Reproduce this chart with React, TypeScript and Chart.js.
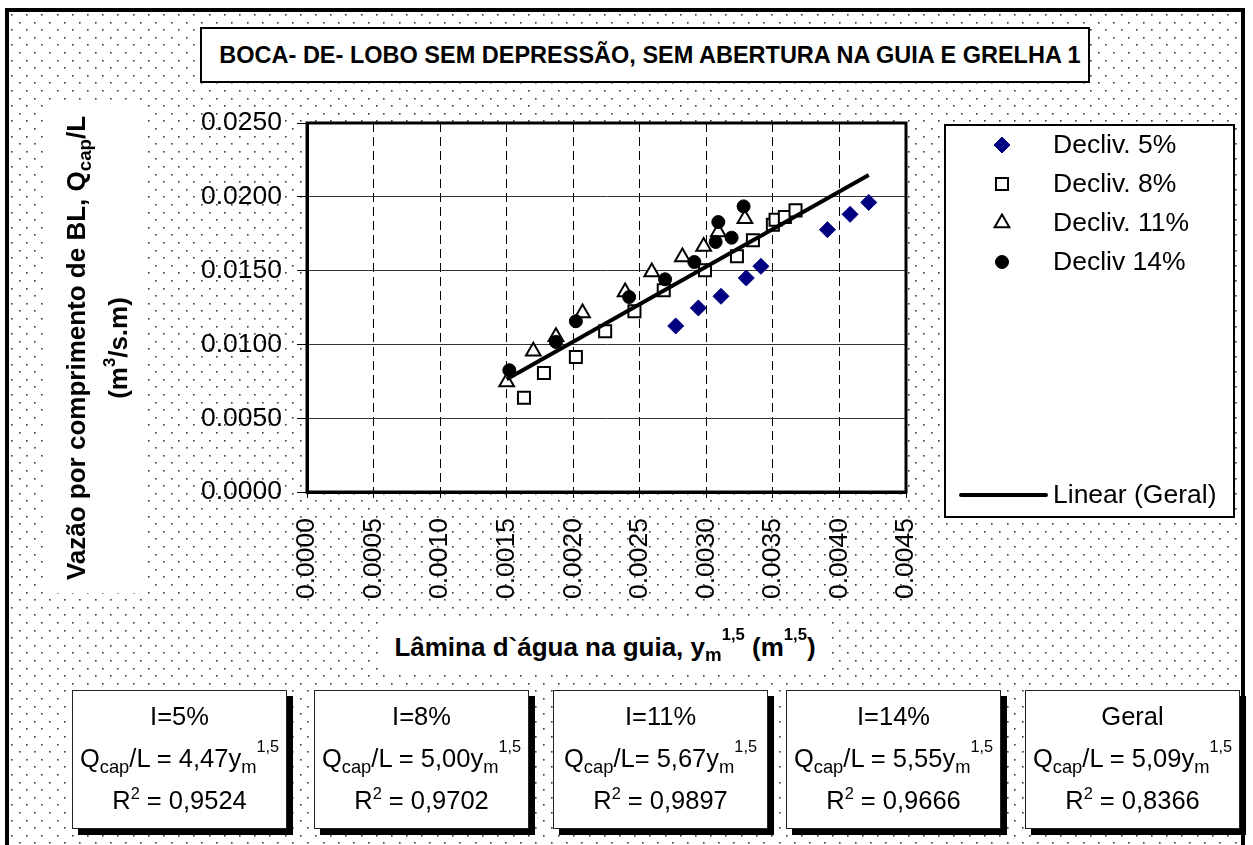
import React, { useEffect, useRef } from 'react';
import { Chart, registerables } from 'chart.js';
import { drawPoint } from 'chart.js/helpers';

Chart.register(...registerables);

const FONT = "'Liberation Sans', Arial, Helvetica, sans-serif";

// ---- data (x = y_m^1.5 in m^1.5, y = Qcap/L in m3/s.m) ----
const decliv5X = [0.00277, 0.00294, 0.00311, 0.0033, 0.00341, 0.00391, 0.00408, 0.00422];
const decliv5Y = [0.01125, 0.01247, 0.01326, 0.0145, 0.01529, 0.01777, 0.01881, 0.01962];

const decliv8X = [0.00163, 0.00178, 0.00202, 0.00224, 0.00246, 0.00268, 0.00299, 0.00323, 0.00335, 0.0035, 0.00352, 0.00359, 0.00367];
const decliv8Y = [0.00638, 0.00807, 0.00915, 0.01089, 0.01225, 0.01367, 0.01502, 0.01597, 0.01705, 0.01811, 0.01845, 0.01863, 0.01908];

const decliv11X = [0.0015, 0.0017, 0.00187, 0.00207, 0.00239, 0.00259, 0.00282, 0.00298, 0.00309, 0.00329];
const decliv11Y = [0.00746, 0.00954, 0.01051, 0.01213, 0.01355, 0.01491, 0.01592, 0.01664, 0.01761, 0.01852];

const decliv14X = [0.00152, 0.00187, 0.00202, 0.00242, 0.00269, 0.00291, 0.00307, 0.00309, 0.00319, 0.00328];
const decliv14Y = [0.00825, 0.01017, 0.01157, 0.01321, 0.01441, 0.01558, 0.01694, 0.01829, 0.01723, 0.01935];

const trendX = [0.0015, 0.00422];
const trendY = [0.00764, 0.02148];

const xTickValues = [0, 0.0005, 0.001, 0.0015, 0.002, 0.0025, 0.003, 0.0035, 0.004, 0.0045];
const xTickLabels = ['0.0000', '0.0005', '0.0010', '0.0015', '0.0020', '0.0025', '0.0030', '0.0035', '0.0040', '0.0045'];
const yTickValues = [0, 0.005, 0.01, 0.015, 0.02, 0.025];
const yTickLabels = ['0.0000', '0.0050', '0.0100', '0.0150', '0.0200', '0.0250'];

const legendLabels = ['Decliv. 5%', 'Decliv. 8%', 'Decliv. 11%', 'Decliv 14%'];
const trendLabel = 'Linear (Geral)';

const titleText = 'BOCA- DE- LOBO SEM DEPRESSÃO, SEM ABERTURA NA GUIA E GRELHA 1';

const eqNames = ['I=5%', 'I=8%', 'I=11%', 'I=14%', 'Geral'];
const eqPrefix = ['Q', 'Q', 'Q', 'Q', 'Q'];
const eqMid = ['/L = ', '/L = ', '/L= ', '/L = ', '/L = '];
const eqCoef = ['4,47', '5,00', '5,67', '5,55', '5,09'];
const eqR2 = ['0,9524', '0,9702', '0,9897', '0,9666', '0,8366'];

const pts = (xs: number[], ys: number[]) => xs.map((x, i) => ({ x, y: ys[i] }));

const NAVY = '#000080';

const Sub = ({ children, top = '0.3em', size = '0.72em' }: any) => (
  <span style={{ fontSize: size, position: 'relative', top, lineHeight: 0 }}>{children}</span>
);
const Sup = ({ children, top = '-0.95em', size = '0.64em' }: any) => (
  <span style={{ fontSize: size, position: 'relative', top, lineHeight: 0 }}>{children}</span>
);

const legendPlugin = {
  id: 'customDeco',
  beforeDraw(chart: any) {
    const ctx = chart.ctx;
    ctx.save();
    ctx.fillStyle = '#fff';
    ctx.fillRect(0, 0, chart.width, chart.height);
    ctx.fillStyle = '#3c3c3c';
    for (let r = 0; ; r++) {
      const y = 14 + r * 7.6;
      if (y > chart.height) break;
      for (let x = 11 + (r % 2) * 7.6; x < 1240; x += 15.2) {
        ctx.fillRect(Math.round(x), Math.round(y), 1.6, 1.6);
      }
    }
    const a = chart.chartArea;
    ctx.fillStyle = '#fff';
    ctx.fillRect(a.left, a.top, a.right - a.left, a.bottom - a.top);
    ctx.restore();
  },
  beforeDatasetsDraw(chart: any) {
    const ctx = chart.ctx;
    const a = chart.chartArea;
    ctx.save();
    ctx.strokeStyle = '#000';
    ctx.lineWidth = 3;
    ctx.strokeRect(a.left, a.top, a.right - a.left, a.bottom - a.top);
    ctx.restore();
  },
  afterDraw(chart: any) {
    const ctx = chart.ctx;
    ctx.save();
    const bx = 945, by = 125, bw = 289, bh = 392;
    ctx.fillStyle = '#fff';
    ctx.fillRect(bx, by, bw, bh);
    ctx.strokeStyle = '#000';
    ctx.lineWidth = 2;
    ctx.strokeRect(bx, by, bw, bh);
    const rowsY = [145, 184, 223, 262];
    ctx.font = `26.5px ${FONT}`;
    ctx.textBaseline = 'middle';
    ctx.textAlign = 'left';
    for (let i = 0; i < 4; i++) {
      const ds = chart.data.datasets[i];
      ctx.fillStyle = ds.pointBackgroundColor;
      ctx.strokeStyle = ds.pointBorderColor;
      ctx.lineWidth = ds.pointBorderWidth;
      drawPoint(ctx, {
        pointStyle: ds.pointStyle,
        rotation: 0,
        radius: ds.pointRadius,
        borderWidth: ds.pointBorderWidth,
      } as any, 1002, rowsY[i]);
      ctx.fillStyle = '#000';
      ctx.fillText(ds.label, 1053, rowsY[i] + 1);
    }
    const tds = chart.data.datasets[4];
    ctx.strokeStyle = tds.borderColor;
    ctx.lineWidth = tds.borderWidth;
    ctx.lineCap = 'round';
    ctx.beginPath();
    ctx.moveTo(961, 495);
    ctx.lineTo(1046, 495);
    ctx.stroke();
    ctx.fillStyle = '#000';
    ctx.fillText(tds.label, 1053, 496);
    ctx.restore();
  },
};

export default function App() {
  const ref = useRef<HTMLCanvasElement | null>(null);

  useEffect(() => {
    if (!ref.current) return;
    const chart = new Chart(ref.current, {
      type: 'scatter',
      data: {
        datasets: [
          {
            label: legendLabels[0],
            data: pts(decliv5X, decliv5Y),
            pointStyle: 'rectRot',
            pointRadius: 8,
            pointBackgroundColor: NAVY,
            pointBorderColor: NAVY,
            pointBorderWidth: 1,
            order: 4,
          },
          {
            label: legendLabels[1],
            data: pts(decliv8X, decliv8Y),
            pointStyle: 'rect',
            pointRadius: 8.5,
            pointBackgroundColor: '#fff',
            pointBorderColor: '#000',
            pointBorderWidth: 2,
            order: 3,
          },
          {
            label: legendLabels[2],
            data: pts(decliv11X, decliv11Y),
            pointStyle: 'triangle',
            pointRadius: 8.5,
            pointBackgroundColor: '#fff',
            pointBorderColor: '#000',
            pointBorderWidth: 2,
            order: 2,
          },
          {
            label: legendLabels[3],
            data: pts(decliv14X, decliv14Y),
            pointStyle: 'circle',
            pointRadius: 6.5,
            pointBackgroundColor: '#000',
            pointBorderColor: '#000',
            pointBorderWidth: 1,
            order: 1,
          },
          {
            label: trendLabel,
            data: pts(trendX, trendY),
            showLine: true,
            borderColor: '#000',
            borderWidth: 4,
            pointRadius: 0,
            fill: false,
            order: 0,
          } as any,
        ],
      },
      options: {
        responsive: false,
        animation: false,
        devicePixelRatio: 1,
        layout: { padding: { left: 0, right: 347, top: 123, bottom: 0 } },
        plugins: {
          legend: { display: false },
          tooltip: { enabled: false },
          title: { display: false },
        },
        scales: {
          x: {
            type: 'linear',
            position: 'bottom',
            min: 0,
            max: 0.0045,
            afterFit: (s: any) => {
              s.height = 353;
            },
            afterBuildTicks: (s: any) => {
              s.ticks = xTickValues.map((value) => ({ value }));
            },
            grid: { color: '#000', lineWidth: 1, tickLength: 6, tickColor: '#000', tickWidth: 1 },
            border: { display: true, color: '#000', width: 3, dash: [9, 5] },
            ticks: {
              minRotation: 90,
              maxRotation: 90,
              autoSkip: false,
              padding: 20,
              color: '#000',
              font: { family: FONT, size: 26.5 },
              callback: (_v: any, i: number) => xTickLabels[i],
            },
          },
          y: {
            type: 'linear',
            min: 0,
            max: 0.025,
            afterFit: (s: any) => {
              s.width = 307;
            },
            afterBuildTicks: (s: any) => {
              s.ticks = yTickValues.map((value) => ({ value }));
            },
            grid: { color: '#333', lineWidth: 1, tickLength: 10, tickColor: '#000', tickWidth: 1 },
            border: { display: true, color: '#000', width: 3 },
            ticks: {
              padding: 15,
              color: '#000',
              font: { family: FONT, size: 26.5 },
              callback: (_v: any, i: number) => yTickLabels[i],
            },
          },
        },
      } as any,
      plugins: [legendPlugin],
    });
    return () => chart.destroy();
  }, []);

  const box: React.CSSProperties = {
    position: 'absolute',
    background: '#fff',
    boxSizing: 'border-box',
  };

  const eqLefts = [72, 314, 553, 786, 1025];

  return (
    <div style={{ position: 'absolute', left: 0, top: 0, width: 1253, height: 845, overflow: 'hidden', fontFamily: FONT, color: '#000' }}>
      <canvas ref={ref} width={1253} height={845} style={{ position: 'absolute', left: 0, top: 0, width: 1253, height: 845 }} />
      <div style={{ position: 'absolute', left: 5, top: 8, width: 1240, height: 900, border: '4px solid #000', boxSizing: 'border-box', pointerEvents: 'none' }} />
      <div style={{ ...box, left: 200, top: 27, width: 890, height: 56, border: '2px solid #000', display: 'flex', alignItems: 'center', justifyContent: 'center', paddingLeft: 10, fontWeight: 'bold', fontSize: 23.5, whiteSpace: 'nowrap' }}>
        {titleText}
      </div>
      <div style={{ ...box, left: 48, top: 103, width: 97, height: 490 }}>
        <div style={{ position: 'absolute', left: '50%', top: '50%', width: 490, transform: 'translate(-50%, -50%) rotate(-90deg)', textAlign: 'center', fontWeight: 'bold', fontSize: 26, lineHeight: '42px', whiteSpace: 'nowrap' }}>
          <div>
            Vazão por comprimento de BL, Q<Sub>cap</Sub>/L
          </div>
          <div>
            (m<Sup top="-0.7em">3</Sup>/s.m)
          </div>
        </div>
      </div>
      <div style={{ ...box, left: 383, top: 617, width: 444, height: 58, display: 'flex', alignItems: 'center', justifyContent: 'center', fontWeight: 'bold', fontSize: 26, whiteSpace: 'nowrap', paddingTop: 2 }}>
        <span>
          Lâmina d`água na guia, y<Sub>m</Sub>
          <Sup>1,5</Sup> (m<Sup>1,5</Sup>)
        </span>
      </div>
      {eqNames.map((name, i) => (
        <div
          key={name}
          style={{ ...box, left: eqLefts[i], top: 690, width: 215, height: 139, border: '1px solid #222', boxShadow: '6px 6px 0 #000', textAlign: 'center', fontSize: 25.5, lineHeight: '42px', paddingTop: 4, whiteSpace: 'nowrap' }}
        >
          <div>{name}</div>
          <div>
            {eqPrefix[i]}
            <Sub>cap</Sub>
            {eqMid[i]}
            {eqCoef[i]}y<Sub>m</Sub>
            <Sup>1,5</Sup>
          </div>
          <div>
            R<Sup top="-0.6em">2</Sup> = {eqR2[i]}
          </div>
        </div>
      ))}
    </div>
  );
}
